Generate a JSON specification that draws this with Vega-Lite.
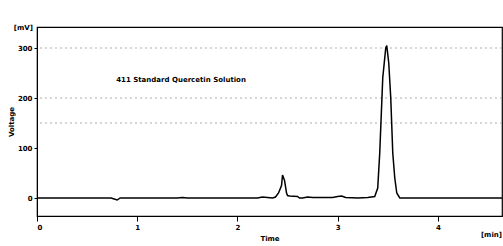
{
  "$schema": "https://vega.github.io/schema/vega-lite/v6.json",
  "width": 465,
  "height": 189,
  "autosize": {"type": "none"},
  "padding": {"left": 37, "top": 27, "right": 1, "bottom": 30},
  "background": "white",
  "config": {
    "view": {"stroke": "black", "strokeWidth": 1.2},
    "font": "DejaVu Sans",
    "axis": {"domainColor": "black", "tickColor": "black", "labelColor": "black", "titleColor": "black", "labelFontSize": 7, "titleFontSize": 7, "labelFontWeight": "bold", "titleFontWeight": "bold", "grid": false}
  },
  "datasets": {
    "signal": [
      {"t": 0, "mv": 0}, {"t": 0.5, "mv": 0}, {"t": 0.74, "mv": 0}, {"t": 0.77, "mv": -2}, {"t": 0.8, "mv": -4}, {"t": 0.83, "mv": 0},
      {"t": 1.4, "mv": 0}, {"t": 1.45, "mv": 1}, {"t": 1.5, "mv": 0}, {"t": 2.0, "mv": 0}, {"t": 2.2, "mv": 0},
      {"t": 2.25, "mv": 2}, {"t": 2.3, "mv": 1}, {"t": 2.35, "mv": 0}, {"t": 2.38, "mv": 2}, {"t": 2.41, "mv": 10},
      {"t": 2.44, "mv": 25}, {"t": 2.45, "mv": 46}, {"t": 2.47, "mv": 35}, {"t": 2.49, "mv": 10}, {"t": 2.5, "mv": 5},
      {"t": 2.52, "mv": 4}, {"t": 2.6, "mv": 3}, {"t": 2.62, "mv": 0}, {"t": 2.65, "mv": 0}, {"t": 2.7, "mv": 2},
      {"t": 2.75, "mv": 1}, {"t": 2.95, "mv": 1}, {"t": 3.0, "mv": 3}, {"t": 3.04, "mv": 4}, {"t": 3.08, "mv": 1},
      {"t": 3.2, "mv": 0}, {"t": 3.3, "mv": 1}, {"t": 3.37, "mv": 3}, {"t": 3.4, "mv": 20}, {"t": 3.42, "mv": 90},
      {"t": 3.45, "mv": 240}, {"t": 3.48, "mv": 300}, {"t": 3.49, "mv": 305}, {"t": 3.51, "mv": 270}, {"t": 3.53, "mv": 200},
      {"t": 3.55, "mv": 90}, {"t": 3.57, "mv": 40}, {"t": 3.59, "mv": 10}, {"t": 3.62, "mv": 0}, {"t": 4.64, "mv": 0}
    ],
    "grid": [{"mv": 300}, {"mv": 200}, {"mv": 150}],
    "note": [{"t": 0.79, "mv": 236, "label": "411 Standard Quercetin Solution"}],
    "units": [{"t": -0.04, "mv": 340, "label": "[mV]"}, {"t": 4.64, "mv": -74, "label": "[min]"}]
  },
  "layer": [
    {
      "data": {"name": "grid"},
      "mark": {"type": "rule", "color": "#999999", "strokeDash": [2, 3], "strokeWidth": 0.8},
      "encoding": {"y": {"field": "mv", "type": "quantitative", "scale": {"domain": [-36, 342]}}}
    },
    {
      "data": {"name": "signal"},
      "mark": {"type": "line", "color": "black", "strokeWidth": 1.5},
      "encoding": {
        "x": {"field": "t", "type": "quantitative", "scale": {"domain": [0, 4.64], "nice": false},
          "axis": {"title": "Time", "values": [0, 1, 2, 3, 4], "format": "d", "labelOverlap": false, "tickSize": 5, "labelPadding": 2, "titlePadding": 4}},
        "y": {"field": "mv", "type": "quantitative", "scale": {"domain": [-36, 342], "nice": false},
          "axis": {"title": "Voltage", "values": [0, 50, 100, 150, 200, 250, 300], "labelOverlap": false, "tickSize": 3, "labelPadding": 2, "titlePadding": 3}}
      }
    },
    {
      "data": {"name": "note"},
      "mark": {"type": "text", "align": "left", "baseline": "middle", "fontSize": 7, "fontWeight": "bold", "color": "black"},
      "encoding": {
        "x": {"field": "t", "type": "quantitative"},
        "y": {"field": "mv", "type": "quantitative"},
        "text": {"field": "label"}
      }
    },
    {
      "data": {"name": "units"},
      "mark": {"type": "text", "align": "right", "baseline": "middle", "fontSize": 7, "fontWeight": "bold", "color": "black", "clip": false},
      "encoding": {
        "x": {"field": "t", "type": "quantitative"},
        "y": {"field": "mv", "type": "quantitative"},
        "text": {"field": "label"}
      }
    }
  ]
}
